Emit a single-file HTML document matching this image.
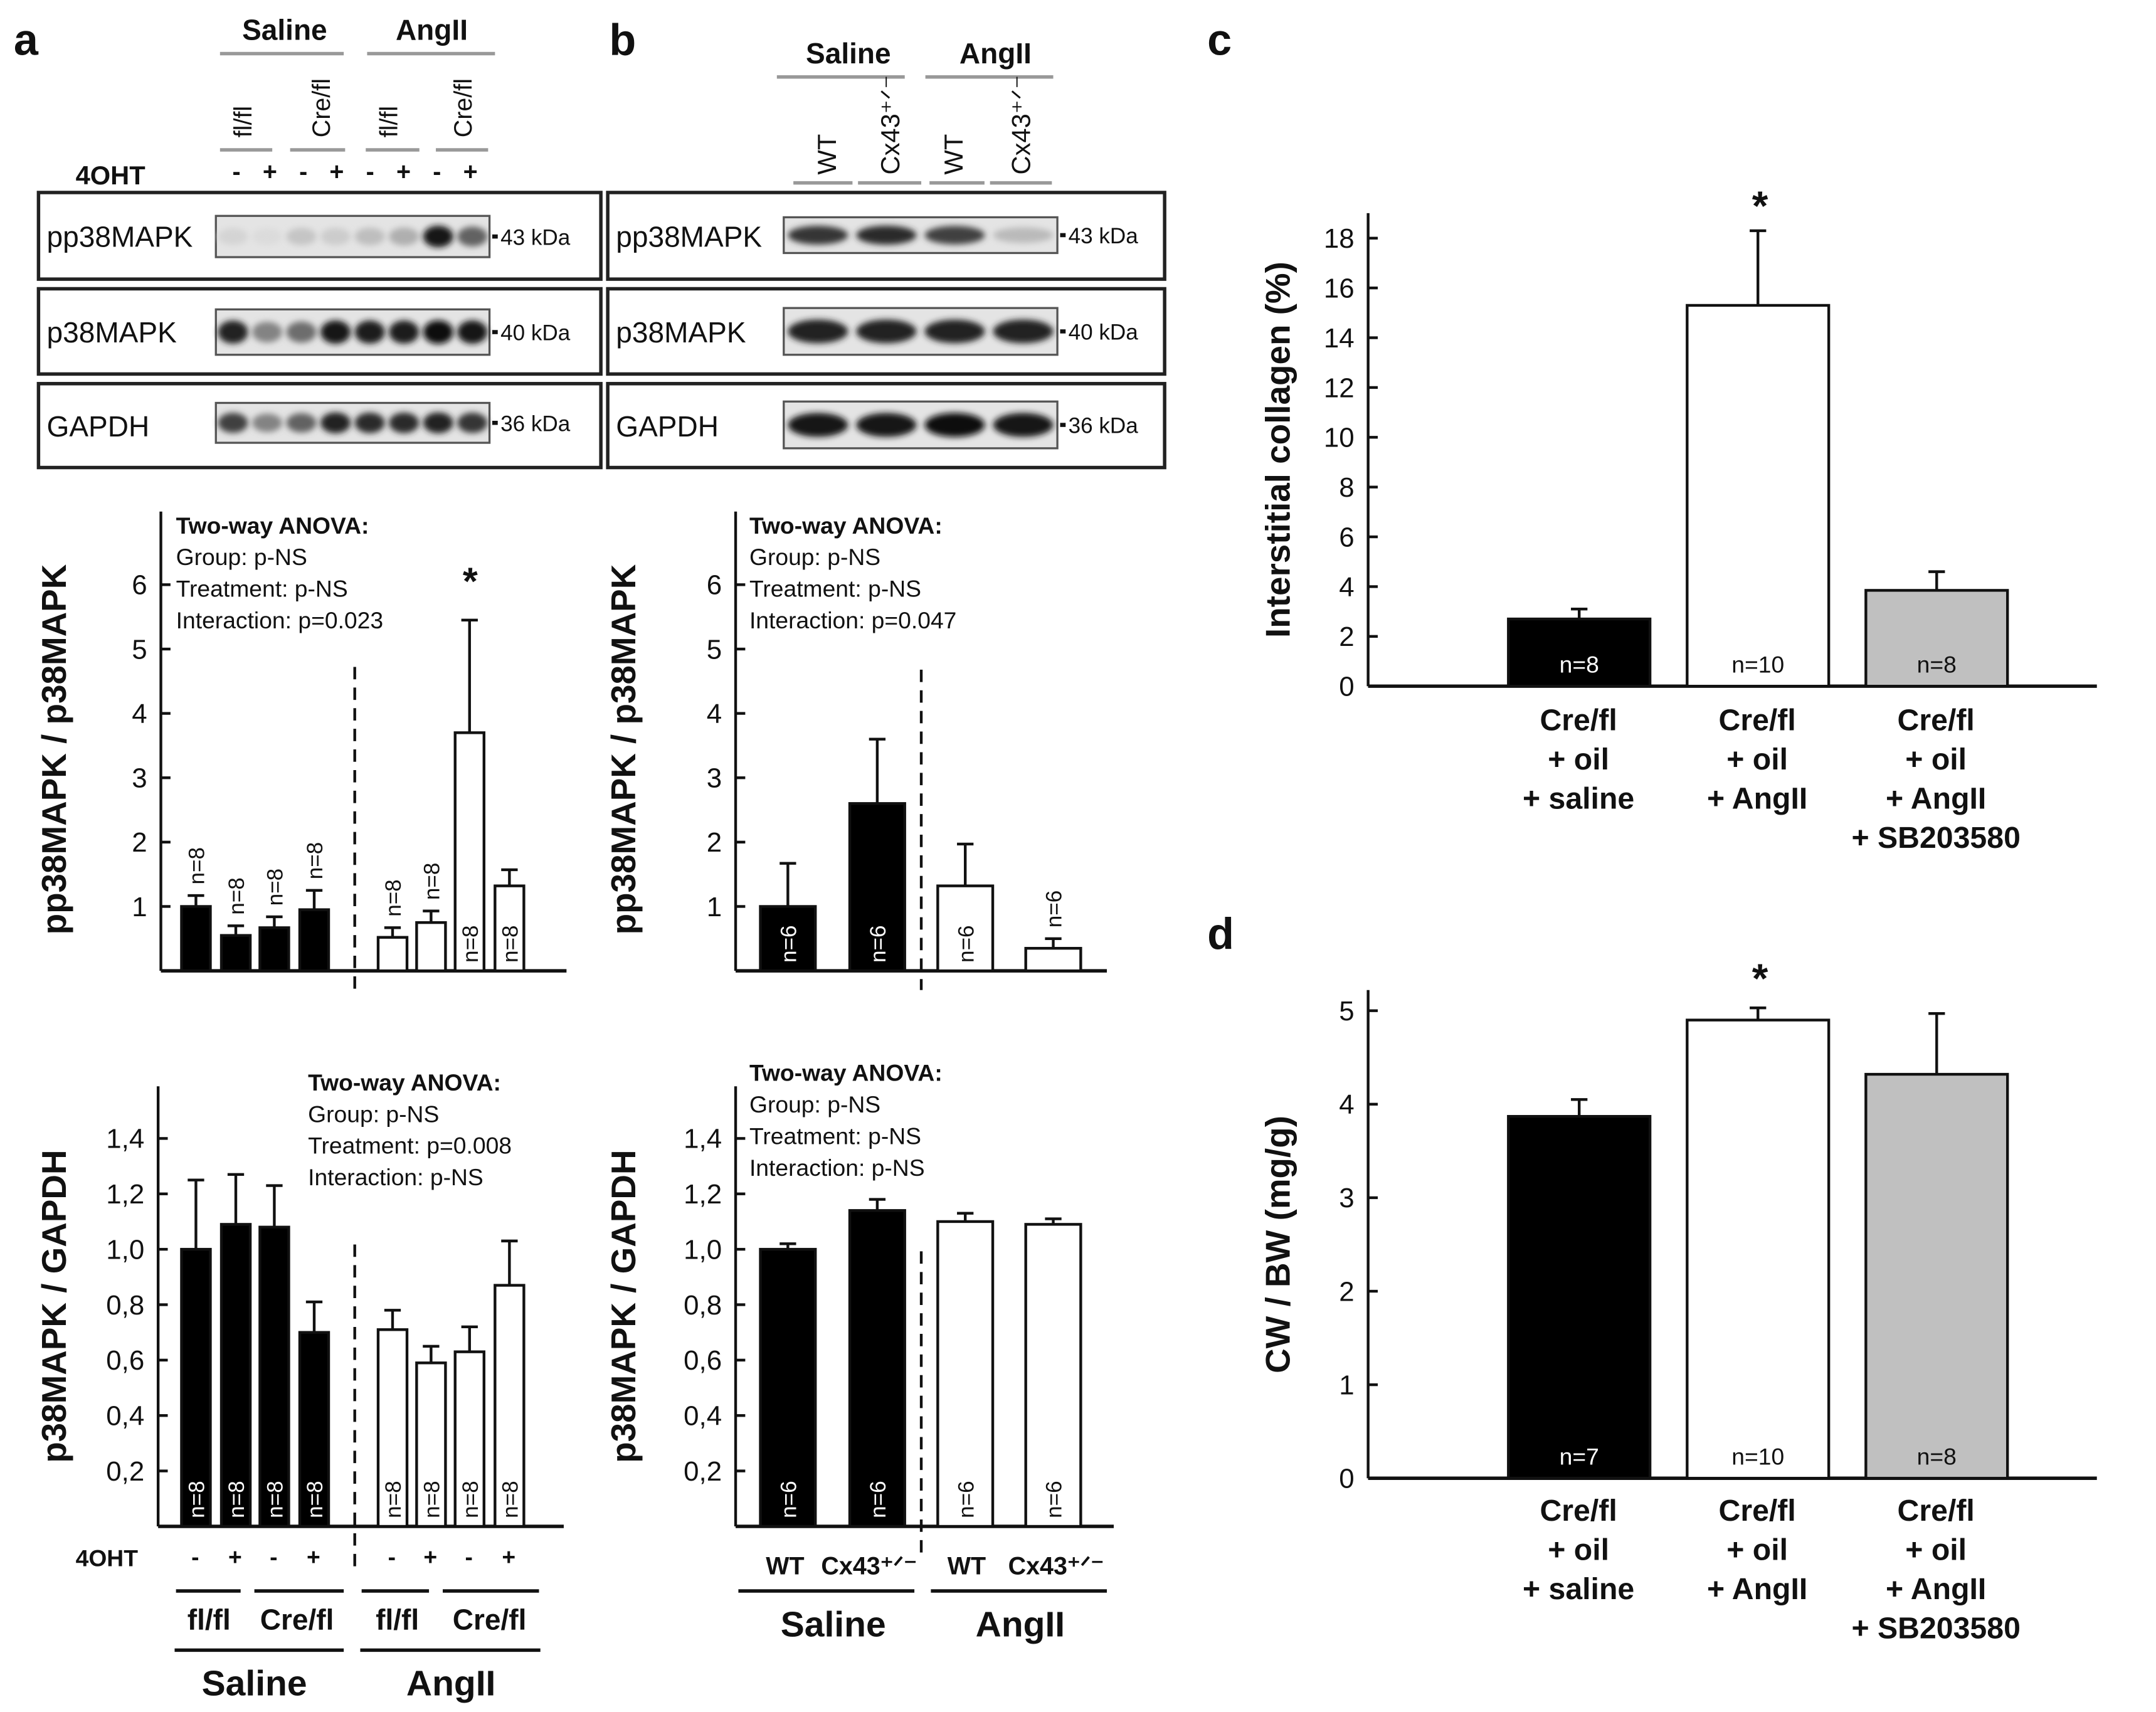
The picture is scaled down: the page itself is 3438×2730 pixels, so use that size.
<!DOCTYPE html>
<html><head><meta charset="utf-8"><style>
html,body{margin:0;padding:0;background:#fff}
svg{display:block;font-family:"Liberation Sans",Arial,sans-serif}
</style></head><body>
<svg id="fig" width="3438" height="2730" viewBox="0 0 1568 1245" preserveAspectRatio="none" xmlns="http://www.w3.org/2000/svg">
<defs>
<filter id="blur" x="-50%" y="-100%" width="200%" height="300%"><feGaussianBlur stdDeviation="2.2"/></filter>
</defs>
<g id="static"></g>
</svg>
<script>
// ---------- data ----------
const aTopVals=[1.0,0.55,0.67,0.95,0.52,0.75,3.7,1.32];
const aTopErr=[0.17,0.15,0.17,0.3,0.15,0.18,1.75,0.25];
const aTopN=["n=8","n=8","n=8","n=8","n=8","n=8","n=8","n=8"];
const bTopVals=[1.0,2.6,1.32,0.35];
const bTopErr=[0.67,1.0,0.65,0.15];
const bTopN=["n=6","n=6","n=6","n=6"];
const aBotVals=[1.0,1.09,1.08,0.7,0.71,0.59,0.63,0.87];
const aBotErr=[0.25,0.18,0.15,0.11,0.07,0.06,0.09,0.16];
const bBotVals=[1.0,1.14,1.1,1.09];
const bBotErr=[0.02,0.04,0.03,0.02];
const cVals=[2.7,15.3,3.85];
const cErr=[0.4,3.0,0.75];
const cN=["n=8","n=10","n=8"];
const dVals=[3.87,4.9,4.32];
const dErr=[0.18,0.13,0.65];
const dN=["n=7","n=10","n=8"];
const topTicks=["1","2","3","4","5","6"];
const botTicks=["0,2","0,4","0,6","0,8","1,0","1,2","1,4"];
const cTicks=["0","2","4","6","8","10","12","14","16","18"];
const dTicks=["0","1","2","3","4","5"];
const cdCategories=[["Cre/fl","+ oil","+ saline"],["Cre/fl","+ oil","+ AngII"],["Cre/fl","+ oil","+ AngII","+ SB203580"]];

const NS="http://www.w3.org/2000/svg";
const root=document.getElementById('static');
function el(tag,attrs,parent,txt){const e=document.createElementNS(NS,tag);for(const k in attrs)e.setAttribute(k,attrs[k]);if(txt!==undefined)e.textContent=txt;(parent||root).appendChild(e);return e;}
function txt(x,y,s,size,opt,parent){opt=opt||{};const a={x:x,y:y,'font-size':size,fill:opt.fill||'#111','text-anchor':opt.anchor||'start'};if(opt.bold)a['font-weight']='bold';if(opt.rot)a.transform='rotate('+opt.rot+' '+x+' '+y+')';const t=el('text',a,parent,s);


return t;}
function line(x1,y1,x2,y2,w,col,parent,dash){const a={x1:x1,y1:y1,x2:x2,y2:y2,stroke:col||'#111','stroke-width':w||2};if(dash)a['stroke-dasharray']=dash;return el('line',a,parent);}

// ---------- generic bar chart ----------
function barChart(cfg){
  const g=el('g',{});
  
  
  const y=v=>cfg.y0-(v-cfg.vmin)*cfg.ppu;
  // axes
  line(cfg.ax,cfg.ytop,cfg.ax,cfg.y0,2,'#111',g);
  line(cfg.ax,cfg.y0,cfg.axEnd,cfg.y0,2.5,'#111',g);
  cfg.ticks.forEach((t,i)=>{const v=cfg.tickVal(i);const yy=y(v);
    line(cfg.ax,yy,cfg.ax+7,yy,2,'#111',g);
    txt(cfg.ax-10,yy+7,t,20,{anchor:'end',name:'y-tick-label'},g);});
  cfg.vals.forEach((v,i)=>{
    const x=cfg.bx[i],w=cfg.bw,top=y(v),et=y(v+cfg.err[i]);
    const cx=x+w/2;
    line(cx,top,cx,et,2,'#111',g);line(cx-6,et,cx+6,et,2,'#111',g);
    const r=el('rect',{x:x,y:top,width:w,height:cfg.y0-top,fill:cfg.fills[i],stroke:'#111','stroke-width':2},g);
    
    
    if(cfg.nlab){const nl=cfg.nlab[i];if(nl){
      if(cfg.nRot){const inside=cfg.nInside?cfg.nInside[i]:true;const ny=inside?cfg.y0-6:Math.min(et,top)-8;
        txt(cx+6,ny,nl,16,{rot:-90,fill:(inside&&cfg.fills[i]=='#000')?'#fff':'#111',name:'n-label'},g);}
      else txt(cx,cfg.y0-10,nl,17,{anchor:'middle',fill:cfg.fills[i]=='#000'?'#fff':'#111',name:'n-label'},g);}}
  });
  return g;
}

// ---------- panel letters ----------
txt(10,40,"a",32,{bold:1,name:'panel-a-letter'});
txt(443,40,"b",32,{bold:1,name:'panel-b-letter'});
txt(878,40,"c",32,{bold:1,name:'panel-c-letter'});
txt(878,690,"d",32,{bold:1,name:'panel-d-letter'});

// ---------- blot headers ----------
const G='#999';
txt(207,29,"Saline",21,{anchor:'middle',bold:1,name:'a-saline-header'});line(160,39,250,39,2.5,G);
txt(314,29,"AngII",21,{anchor:'middle',bold:1,name:'a-angii-header'});line(267,39,360,39,2.5,G);
[["fl/fl",183],["Cre/fl",240],["fl/fl",289],["Cre/fl",343]].forEach(([s,x])=>txt(x,100,s,18,{rot:-90,name:'a-genotype-label'}));
[[160,198],[211,251],[266,305],[317,355]].forEach(([a,b])=>line(a,109,b,109,2.5,G));
txt(55,134,"4OHT",19,{bold:1,name:'a-4oht-label'});
["-","+","-","+","-","+","-","+"].forEach((s,i)=>txt(172+i*24.3,131,s,18,{anchor:'middle',bold:1,name:'a-4oht-sign'}));
txt(617,46,"Saline",21,{anchor:'middle',bold:1,name:'b-saline-header'});line(565,56,658,56,2.5,G);
txt(724,46,"AngII",21,{anchor:'middle',bold:1,name:'b-angii-header'});line(673,56,766,56,2.5,G);
[["WT",608],["Cx43⁺ᐟ⁻",654],["WT",700],["Cx43⁺ᐟ⁻",749]].forEach(([s,x])=>txt(x,127,s,19,{rot:-90,name:'b-genotype-label'}));
[[577,620],[624,670],[676,716],[720,765]].forEach(([a,b])=>line(a,133,b,133,2.5,G));

// ---------- blots ----------
const aBlotPP=[0.08,0.05,0.15,0.12,0.18,0.25,0.95,0.6];
const aBlotP=[0.9,0.45,0.55,0.95,0.92,0.92,1.0,0.95];
const aBlotG=[0.75,0.45,0.6,0.9,0.85,0.85,0.9,0.8];
const bBlotPP=[0.8,0.85,0.75,0.2];
const bBlotP=[0.9,0.9,0.88,0.9];
const bBlotG=[0.95,0.95,0.97,0.95];
function blotRow(bx0,by,lanes,inten,label,kda,boxX,boxY,boxW,boxH,bw,bh,name){
  const r=el('rect',{x:boxX,y:boxY,width:boxW,height:boxH,fill:'#fff',stroke:'#222','stroke-width':2.5});
  
  
  txt(boxX+6,boxY+boxH/2+8,label,21,{name:name+'-label'});
  el('rect',{x:bx0,y:by,width:bw,height:bh,fill:'#e4e4e4',stroke:'#555','stroke-width':1.5});
  const lw=bw/lanes;
  inten.forEach((v,i)=>{const g=Math.round(230-v*220);
    el('ellipse',{cx:bx0+lw*(i+0.5),cy:by+bh/2,rx:lw*0.44,ry:bh*0.2+v*2,fill:'rgb('+g+','+g+','+g+')',filter:'url(#blur)'});});
  line(bx0+bw+2,by+bh/2,bx0+bw+6,by+bh/2,3,'#111');
  txt(bx0+bw+8,by+bh/2+6,kda,16,{name:name+'-kda'});
}
blotRow(157,157,8,aBlotPP,"pp38MAPK","43 kDa",28,140,409,63,199,30,'a-pp38-blot');
blotRow(157,225,8,aBlotP,"p38MAPK","40 kDa",28,210,409,62,199,33,'a-p38-blot');
blotRow(157,293,8,aBlotG,"GAPDH","36 kDa",28,279,409,61,199,29,'a-gapdh-blot');
blotRow(570,158,4,bBlotPP,"pp38MAPK","43 kDa",442,140,405,63,199,26,'b-pp38-blot');
blotRow(570,224,4,bBlotP,"p38MAPK","40 kDa",442,210,405,62,199,34,'b-p38-blot');
blotRow(570,292,4,bBlotG,"GAPDH","36 kDa",442,279,405,61,199,34,'b-gapdh-blot');

// ---------- panel a top chart ----------
const aX=[132,161,189,218,275,303,331,360];
const aFill=['#000','#000','#000','#000','#fff','#fff','#fff','#fff'];
barChart({name:'chart-a-pp38',ax:117,axEnd:412,ytop:372,y0:706,vmin:0,ppu:46.8,ticks:topTicks,tickVal:i=>i+1,
  vals:aTopVals,err:aTopErr,bx:aX,bw:21,fills:aFill,nlab:aTopN,nRot:1,nInside:[0,0,0,0,0,0,1,1]});
line(258,485,258,722,2,'#111',null,'9,6');
txt(342,432,"*",28,{anchor:'middle',bold:1,name:'a-significance-star'});
txt(128,388,"Two-way ANOVA:",17,{bold:1,name:'a-anova-title'});
txt(128,411,"Group: p-NS",17,{name:'a-anova-group'});
txt(128,434,"Treatment: p-NS",17,{name:'a-anova-treatment'});
txt(128,457,"Interaction: p=0.023",17,{name:'a-anova-interaction'});
txt(48,545,"pp38MAPK / p38MAPK",25,{bold:1,rot:-90,anchor:'middle',name:'a-top-y-title'});

// ---------- panel b top chart ----------
const bX=[553,618,682,746];
const bFill=['#000','#000','#fff','#fff'];
barChart({name:'chart-b-pp38',ax:535,axEnd:805,ytop:372,y0:706,vmin:0,ppu:46.8,ticks:topTicks,tickVal:i=>i+1,
  vals:bTopVals,err:bTopErr,bx:bX,bw:40,fills:bFill,nlab:bTopN,nRot:1,nInside:[1,1,1,0]});
line(670,487,670,720,2,'#111',null,'9,6');
txt(545,388,"Two-way ANOVA:",17,{bold:1,name:'b-anova-title'});
txt(545,411,"Group: p-NS",17,{name:'b-anova-group'});
txt(545,434,"Treatment: p-NS",17,{name:'b-anova-treatment'});
txt(545,457,"Interaction: p=0.047",17,{name:'b-anova-interaction'});
txt(462,545,"pp38MAPK / p38MAPK",25,{bold:1,rot:-90,anchor:'middle',name:'b-top-y-title'});

// ---------- panel a bottom chart ----------
barChart({name:'chart-a-p38',ax:115,axEnd:410,ytop:790,y0:1110,vmin:0,ppu:201.5,ticks:botTicks,tickVal:i=>0.2*(i+1),
  vals:aBotVals,err:aBotErr,bx:aX,bw:21,fills:aFill,nlab:aTopN,nRot:1});
line(258,905,258,1140,2,'#111',null,'9,6');
txt(224,793,"Two-way ANOVA:",17,{bold:1,name:'a2-anova-title'});
txt(224,816,"Group: p-NS",17,{name:'a2-anova-group'});
txt(224,839,"Treatment: p=0.008",17,{name:'a2-anova-treatment'});
txt(224,862,"Interaction: p-NS",17,{name:'a2-anova-interaction'});
txt(48,950,"p38MAPK / GAPDH",25,{bold:1,rot:-90,anchor:'middle',name:'a-bottom-y-title'});
txt(55,1139,"4OHT",17,{bold:1,name:'a2-4oht-label'});
["-","+","-","+","-","+","-","+"].forEach((s,i)=>txt(aX[i]+10,1138,s,17,{anchor:'middle',bold:1,name:'a2-4oht-sign'}));
[[128,175],[185,250],[263,312],[322,392]].forEach(([a,b])=>line(a,1157,b,1157,2.5,'#111'));
[["fl/fl",152],["Cre/fl",216],["fl/fl",289],["Cre/fl",356]].forEach(([s,x])=>txt(x,1185,s,21,{anchor:'middle',bold:1,name:'a2-genotype-label'}));
line(127,1200,250,1200,2.5,'#111');line(262,1200,393,1200,2.5,'#111');
txt(185,1233,"Saline",26,{anchor:'middle',bold:1,name:'a2-saline-label'});
txt(328,1233,"AngII",26,{anchor:'middle',bold:1,name:'a2-angii-label'});

// ---------- panel b bottom chart ----------
barChart({name:'chart-b-p38',ax:535,axEnd:810,ytop:790,y0:1110,vmin:0,ppu:201.5,ticks:botTicks,tickVal:i=>0.2*(i+1),
  vals:bBotVals,err:bBotErr,bx:bX,bw:40,fills:bFill,nlab:bTopN,nRot:1});
line(670,910,670,1135,2,'#111',null,'9,6');
txt(545,786,"Two-way ANOVA:",17,{bold:1,name:'b2-anova-title'});
txt(545,809,"Group: p-NS",17,{name:'b2-anova-group'});
txt(545,832,"Treatment: p-NS",17,{name:'b2-anova-treatment'});
txt(545,855,"Interaction: p-NS",17,{name:'b2-anova-interaction'});
txt(462,950,"p38MAPK / GAPDH",25,{bold:1,rot:-90,anchor:'middle',name:'b-bottom-y-title'});
[["WT",571],["Cx43⁺ᐟ⁻",632],["WT",703],["Cx43⁺ᐟ⁻",768]].forEach(([s,x])=>txt(x,1145,s,18,{anchor:'middle',bold:1,name:'b2-genotype-label'}));
line(537,1157,665,1157,2.5,'#111');line(677,1157,805,1157,2.5,'#111');
txt(606,1190,"Saline",26,{anchor:'middle',bold:1,name:'b2-saline-label'});
txt(742,1190,"AngII",26,{anchor:'middle',bold:1,name:'b2-angii-label'});

// ---------- panel c ----------
const cdX=[1097,1227,1357];
const cdFill=['#000','#fff','#c0c0c0'];
barChart({name:'chart-c-collagen',ax:995,axEnd:1525,ytop:155,y0:499,vmin:0,ppu:18.1,ticks:cTicks,tickVal:i=>2*i,
  vals:cVals,err:cErr,bx:cdX,bw:103,fills:cdFill,nlab:cN});
txt(1280,160,"*",30,{anchor:'middle',bold:1,name:'c-significance-star'});
txt(938,327,"Interstitial collagen (%)",25,{bold:1,rot:-90,anchor:'middle',name:'c-y-title'});
cdCategories.forEach((lines,i)=>lines.forEach((s,j)=>txt(cdX[i]+51,531+j*28.5,s,22,{anchor:'middle',bold:1,name:'c-category-label'})));

// ---------- panel d ----------
barChart({name:'chart-d-cwbw',ax:995,axEnd:1525,ytop:720,y0:1075,vmin:0,ppu:68,ticks:dTicks,tickVal:i=>i,
  vals:dVals,err:dErr,bx:cdX,bw:103,fills:cdFill,nlab:dN});
txt(1280,722,"*",30,{anchor:'middle',bold:1,name:'d-significance-star'});
txt(938,905,"CW / BW (mg/g)",25,{bold:1,rot:-90,anchor:'middle',name:'d-y-title'});
cdCategories.forEach((lines,i)=>lines.forEach((s,j)=>txt(cdX[i]+51,1106+j*28.5,s,22,{anchor:'middle',bold:1,name:'d-category-label'})));
</script>
</body></html>
